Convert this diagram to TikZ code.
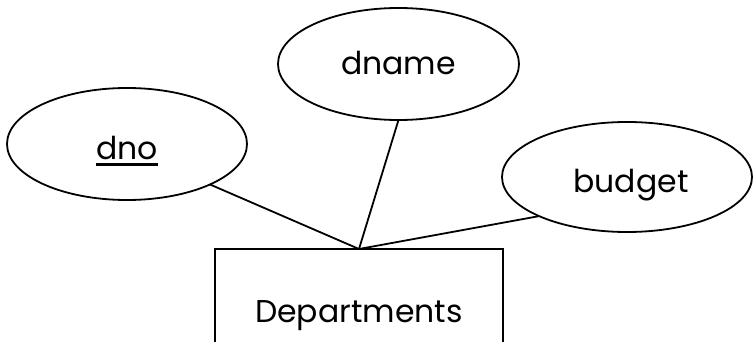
\documentclass[tikz,border=0pt]{standalone}
\usepackage{fontspec}
\setmainfont{Poppins}
\usetikzlibrary{shapes.geometric}
\newcommand\ulword[1]{\setbox0\hbox{#1}\rlap{\rule[-6.5pt]{\wd0}{3pt}}\box0}
\begin{document}
\begin{tikzpicture}[x=1pt,y=-1pt,line width=1.8pt,
  attr/.style={draw, ellipse, inner sep=0pt, outer sep=0pt, font=\fontsize{31.5}{36}\selectfont},
  entity/.style={draw, rectangle, inner sep=0pt, outer sep=0pt, minimum width=288pt, minimum height=124pt, font=\fontsize{31.5}{36}\selectfont},
  conn/.style={draw, line width=1.8pt}]
\useasboundingbox (0,0) rectangle (753,342);
\clip (0,0) rectangle (753,342);
\node[attr, minimum width=240pt, minimum height=112pt, text height=32pt, text depth=0pt] (dno) at (127,144) {\ulword{dno}};
\node[attr, minimum width=241pt, minimum height=112pt, text height=22pt, text depth=0pt] (dname) at (398.5,64) {dname};
\node[attr, minimum width=250pt, minimum height=110pt, text height=31pt, text depth=0pt] (budget) at (627,177) {\hspace*{8pt}budget};
\node[entity, text height=22pt, text depth=0pt] (dept) at (359,311) {Departments};
\draw[conn] (dept.north) -- (dno.-26);
\draw[conn] (dept.north) -- (dname.south);
\draw[conn] (dept.north) -- (budget.204);
\end{tikzpicture}
\end{document}
